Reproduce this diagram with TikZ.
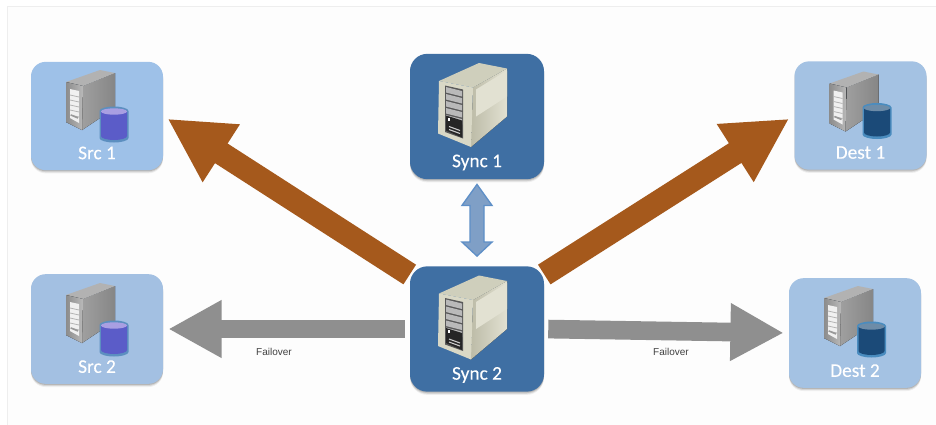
\documentclass[tikz,border=0pt]{standalone}
\usepackage{fontspec}
\setmainfont{Carlito}
\newfontfamily\boxfont[FakeBold=0.2]{Carlito}
\newfontfamily\smallfont{Liberation Sans}
\usetikzlibrary{arrows.meta,calc,shadows}
\definecolor{bgc}{HTML}{FDFDFD}
\definecolor{framec}{HTML}{EEEEEE}
\definecolor{srcone}{HTML}{9EC1E8}
\definecolor{srctwo}{HTML}{A3C0E2}
\definecolor{destc}{HTML}{A4C2E3}
\definecolor{syncc}{HTML}{3F6FA3}
\definecolor{orangec}{HTML}{A5591C}
\definecolor{grayc}{HTML}{8F8F8F}
\definecolor{blueshaft}{HTML}{7F9FC6}
\definecolor{blueedge}{HTML}{5E8FC7}
\definecolor{creamtop}{HTML}{CFCFBC}
\definecolor{creamfront}{HTML}{D9D8C6}
\definecolor{creamside}{HTML}{E2E1D2}
\definecolor{creamlow}{HTML}{BDBCA8}
\tikzset{
  softshadow/.style={
    general shadow={shadow xshift=0pt,shadow yshift=-2.4pt,fill=black,opacity=.06},
    general shadow={shadow xshift=0pt,shadow yshift=-1.6pt,fill=black,opacity=.10},
    general shadow={shadow xshift=0pt,shadow yshift=-0.8pt,fill=black,opacity=.14}},
  hostbox/.style={softshadow,rounded corners=11pt,minimum width=99pt,inner ysep=0pt,
    text height=73pt,text depth=8.25pt,text=white,font=\boxfont\fontsize{14.5}{16}\selectfont},
  syncbox/.style={softshadow,rounded corners=13pt,fill=syncc,minimum width=100.5pt,inner ysep=0pt,
    text height=85pt,text depth=9pt,text=white,font=\boxfont\fontsize{14.5}{16}\selectfont},
  orangearrow/.style={draw=orangec,line width=17.5pt,
    -{Triangle[length=48pt,width=48pt,fill=orangec]}},
  grayarrow/.style={draw=grayc,line width=14pt,
    -{Triangle[length=40pt,width=40.5pt,fill=grayc]}},
  labeltext/.style={font=\smallfont\fontsize{7.5}{9}\selectfont,text=black!75},
  greyserver/.pic={
    \fill[left color=gray!75,right color=gray!95] (-14,-30) -- (18,-43) -- (18,-8) -- (-15,14) -- cycle;
    \fill[gray!60] (-31,-34) -- (3,-46) -- (18,-43) -- (-14,-30) -- cycle;
    \fill[left color=gray!90,right color=gray!55] (-31,-34) -- (-14,-30) -- (-15,14) -- (-31,6) -- cycle;
    \fill[white!88!gray] (-27,-27) -- (-18,-25) -- (-18,7) -- (-27,2) -- cycle;
    \foreach \k in {0,1,2,3,4}
      \draw[gray!60,line width=.6pt] (-27,-21+\k*5) -- (-18,-19+\k*5);
    \draw[gray!80,line width=1.2pt] (-26,-1) -- (-19,2);
  },
  syncserver/.pic={
    \fill[left color=creamlow,right color=creamside] (-4,-29) -- (30,-48) -- (30,0) -- (-6,30.5) -- cycle;
    \fill[creamtop] (2,-53.5) -- (30,-48) -- (-4,-29) -- (-38,-35.5) -- cycle;
    \fill[creamfront] (-38,-35.5) -- (-4,-29) -- (-6,30.5) -- (-39,17) -- cycle;
    \fill[creamside] (-1,-27) -- (30,-46) -- (30,-20) -- (-1,0) -- cycle;
    \fill[gray!70!black] (-32,-31) -- (-14,-27) -- (-14,22) -- (-32,15.5) -- cycle;
    \foreach \k in {0,1,2,3,4}
      \fill[gray!55] (-31,-29.5+\k*7) -- (-15,-25.5+\k*7) -- (-15,-20+\k*7) -- (-31,-24+\k*7) -- cycle;
    \fill[black!85] (-31,-1) -- (-15,4) -- (-15,21) -- (-31,14) -- cycle;
    \fill[white] (-29,1) rectangle (-27,4);
    \draw[gray!40,line width=.8pt] (-28,10) -- (-17,14);
    \draw[gray!40,line width=.8pt] (-28,13) -- (-17,17);
  },
  dbicon/.pic={
    \fill[dbrim] (-14.5,0) -- (-14.5,27) arc[start angle=180,end angle=360,x radius=14.5,y radius=-4.5] -- (14.5,0) arc[start angle=0,end angle=180,x radius=14.5,y radius=-4.5] -- cycle;
    \fill[dbbody] (-13,1) -- (-13,25) arc[start angle=180,end angle=360,x radius=13,y radius=-4] -- (13,1) -- cycle;
    \fill[dbtop] (0,0.5) ellipse[x radius=13,y radius=3.2];
  }
}
\colorlet{dbrim}{blue}\colorlet{dbbody}{blue}\colorlet{dbtop}{blue}
\newcommand{\srcdb}{\definecolor{dbrim}{HTML}{5C8FC0}\definecolor{dbbody}{HTML}{5B5CC8}\definecolor{dbtop}{HTML}{A99FE2}}
\newcommand{\destdb}{\definecolor{dbrim}{HTML}{4A8CBF}\definecolor{dbbody}{HTML}{1B4A78}\definecolor{dbtop}{HTML}{6D8CA8}}
\begin{document}
\begin{tikzpicture}[x=0.75pt,y=-0.75pt]
\useasboundingbox (0,0) rectangle (936,425);
\fill[white] (0,0) rectangle (936,425);
\fill[bgc] (7,6) rectangle (936,425);
\draw[framec,line width=.6pt] (7,425) -- (7,6) -- (936,6);

\node[hostbox,fill=srcone] (src1) at (97,116) {Src 1};
\node[hostbox,fill=srctwo,text height=74pt] (src2) at (97,329) {Src 2};
\node[hostbox,fill=destc] (dest1) at (860.5,115.5) {Dest 1};
\node[hostbox,fill=destc,text height=74pt] (dest2) at (855,333) {Dest 2};
\node[syncbox] (sync1) at (477,116.5) {Sync 1};
\node[syncbox] (sync2) at (477,329) {Sync 2};

\pic at (src1.center) {greyserver};
\pic at (src2.center) {greyserver};
\pic at ($(dest1.center)+(0,2)$) {greyserver};
\pic at ($(dest2.center)+(0,-1)$) {greyserver};
\pic at (sync1.center) {syncserver};
\pic at (sync2.center) {syncserver};
\srcdb
\pic at ($(src1.center)+(17,-5)$) {dbicon};
\pic at ($(src2.center)+(17,-4)$) {dbicon};
\destdb
\pic at ($(dest1.center)+(16.5,-8)$) {dbicon};
\pic at ($(dest2.center)+(16.5,-7)$) {dbicon};

\draw[orangearrow,shorten >=3.75pt] (sync2.141) -- (src1.east);
\draw[orangearrow,shorten >=4.5pt] (sync2.39) -- (dest1.west);
\draw[grayarrow,shorten <=3.75pt,shorten >=3.75pt] (sync2.west) -- (src2.east);
\draw[grayarrow,shorten <=3pt,shorten >=3.75pt] (sync2.east) -- (dest2.west);

\draw[blueedge,fill=blueshaft,line width=1pt]
  ($(sync1.south)+(0,5)$) -- ($(sync1.south)+(15,26)$) -- ($(sync1.south)+(7,26)$)
  -- ($(sync2.north)+(7,-24)$) -- ($(sync2.north)+(15,-24)$) -- ($(sync2.north)+(0,-10)$)
  -- ($(sync2.north)+(-15,-24)$) -- ($(sync2.north)+(-7,-24)$) -- ($(sync1.south)+(-7,26)$)
  -- ($(sync1.south)+(-15,26)$) -- cycle;

\node[labeltext] (fail1) at (274,352) {Failover};
\node[labeltext] (fail2) at (671,352) {Failover};
\end{tikzpicture}
\end{document}
